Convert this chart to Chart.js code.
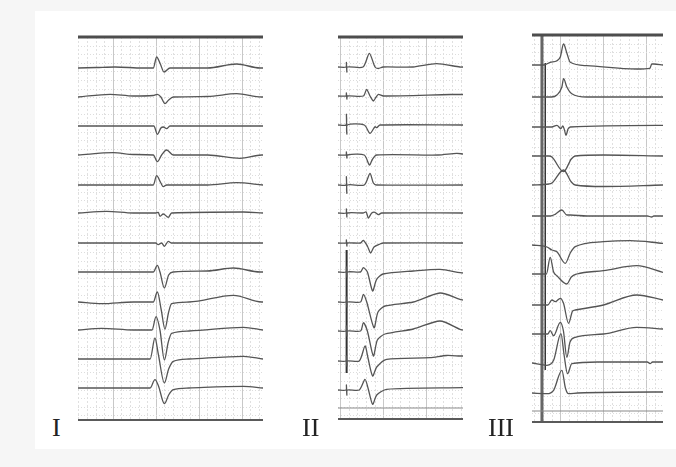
<!DOCTYPE html>
<html>
<head>
<meta charset="utf-8">
<script src="https://cdn.jsdelivr.net/npm/chart.js@4.4.0/dist/chart.umd.min.js"></script>
<style>
body { margin: 0; background: #f6f6f6; width: 676px; height: 467px; overflow: hidden; position: relative; }
#sheet { position: absolute; left: 35px; top: 11px; width: 641px; height: 438px; background: #fff; }
canvas { position: absolute; }
.lbl { position: absolute; top: 415px; font-family: 'Liberation Serif', 'DejaVu Serif', serif; font-size: 26px; line-height: 1; color: #222; }
</style>
</head>
<body>
<div id="sheet"></div>
<canvas id="c1"></canvas>
<canvas id="c2"></canvas>
<canvas id="c3"></canvas>
<div class="lbl" style="left:52px">I</div>
<div class="lbl" style="left:302px">II</div>
<div class="lbl" style="left:488px">III</div>
<script>
// x = % of strip width, y = deflection from each lead's baseline (up is positive)
const panelLabels = ['I', 'II', 'III']

// ---- panel I ----
const baseI = [352, 323, 294, 265, 235, 207, 177, 148, 118, 90, 61, 32]
const leadsI = [
    [[0,0],[10,0.5],[20,1],[35,0],[40.7,0],[42.5,11],[44.5,4],[46.5,-4],[49.7,0],[70,0],[85.7,4],[98.4,0],[100,0]],
    [[0,0],[17.3,2.7],[30,1],[40.7,1.5],[42.9,2.7],[44.8,0],[47,-6.7],[49,-3],[51.5,0],[70,0.5],[85.7,3.3],[99.3,0],[100,0]],
    [[0,0],[41,0],[42.9,-8.3],[44.8,-2],[46.1,-1],[47.9,-2.7],[49.7,0],[100,0]],
    [[0,0],[19.1,2.3],[30,0.5],[40.7,0],[42.9,-6.7],[45.2,0],[47.9,5],[51.5,0],[70,0],[87.6,-3.3],[99.3,0],[100,0]],
    [[0,0],[40.7,0],[42.5,9.3],[44.8,2],[46.1,-1.7],[47.9,0],[70,0],[85.7,2.3],[100,0]],
    [[0,0],[15.5,1.7],[30,0],[42,0],[43.4,0.7],[44.3,-3.3],[46.1,-1],[48.8,-4.3],[50.6,0],[89.4,1],[100,0]],
    [[0,0],[42,0],[43.4,-1.7],[45.2,0],[46.7,-3.3],[48.8,1.7],[50.6,0],[100,0]],
    [[0,0],[40.7,0],[42.9,6.7],[44.3,0],[46.7,-16],[49,-3],[51.5,0],[70,1],[84,4],[98.4,0],[100,0]],
    [[0,0],[12.8,-1.7],[30,0],[40.7,0],[42.9,10],[45,-8],[47,-27],[49,-10],[50.6,-1.7],[60,0],[84,6.7],[99.3,0],[100,0]],
    [[0,0],[12.8,1.7],[30,0],[40,0],[42.2,13.3],[44.3,0],[46.7,-30],[48.8,-12],[50.6,-3.3],[60,-1],[89.4,2.7],[100,0]],
    [[0,0],[39,0],[41.6,21],[43.4,5],[46.7,-24],[49,-10],[51.5,-2.3],[60,0],[89.4,2.7],[100,0]],
    [[0,0],[39,0],[41.6,8.3],[43.5,2],[46.7,-15.7],[49,-7],[51.5,-1.7],[60,0],[89.4,1.7],[100,0]]
]

// ---- panel II (paced) ----
const baseII = [352, 323, 294, 264, 234, 206, 176, 147, 117, 88, 58, 29]
const spikeII = [[4.5,-5], [3,-3], [10.7,-9], [3,-3], [8.3,-8.3], [4,-4], [3,-3], [5,-5], [5,-5], [5,-5], [5,-5], [5,-5]]
const leadsII = [
    [[20,0],[25.1,13.7],[29.6,0],[32.3,-1.5],[36,0],[60,0],[78.9,3.3],[97.6,0],[100,0]],
    [[20.3,0],[22.9,6.7],[25.6,0],[28.3,-5],[30.5,-1],[32.3,1.7],[36.3,0],[90,1.5],[100,1.5]],
    [[21,0],[25.6,-8.3],[29.6,-1.7],[31,-2.7],[33.6,0],[100,0]],
    [[21,0],[25.1,-10],[27.7,-4],[30.9,0],[80,0],[95,1.7],[100,1]],
    [[21,0],[25.6,11.7],[28.3,2],[30.9,0],[100,0]],
    [[20,0],[22.5,1],[24.3,-5],[27,0],[29.6,0.7],[32.3,-1.7],[34.9,0],[100,0]],
    [[18,0],[20.3,2.7],[23.5,-3],[26.1,-10],[28.8,-4],[33.6,-1],[36.3,0],[100,0]],
    [[18,0],[20.3,4.3],[23.5,0],[27.7,-19],[30.9,-7.3],[36,-2],[60.3,1],[81.6,2.7],[97.6,-0.7],[100,-1]],
    [[18,0],[20.3,7.7],[23,0],[28.8,-25.7],[32,-10],[37.6,-4],[60.3,0],[81.6,9],[97.6,2.7],[100,2]],
    [[18,0],[20.3,8.3],[23.5,0],[28.3,-25],[31.5,-9],[37.6,-3],[60.3,2],[81.6,10],[97.6,1.7],[100,1]],
    [[17,0],[21.6,15],[24,3],[27.7,-15],[31,-6],[38.9,1.7],[73.6,3.3],[86.9,5.5],[97.6,5],[100,5]],
    [[17,0],[21.6,10.7],[24,2],[27.7,-14.3],[31,-5],[38.9,0.7],[100,2.3]]
]
const pacerII = [[6.9, 169], [6.9, 46]]

// ---- panel III ----
const baseIII = [357, 325, 295, 266, 237, 206, 177, 148, 117, 88, 59, 29]
const leadsIII = [
    [[0,0],[9,0],[13.9,2.7],[19,4.3],[21.6,8],[24.1,21],[26.6,12],[29.2,2.7],[41.9,-0.7],[80,-4],[90,-3.3],[91.4,1],[93,1],[100,0]],
    [[0,0],[15,0],[19,2],[22.8,10],[24.1,18.3],[26.6,10],[30.4,3.3],[41.9,0],[100,0]],
    [[0,0],[15,0],[19,1.7],[22.1,-1.7],[23.5,1],[24.8,-3],[25.9,-8.3],[27.5,-2],[29.2,0],[100,1.7]],
    [[0,0],[13,0],[15.2,-1],[24.1,-15.7],[30,-3],[33,0],[54.6,1],[100,0]],
    [[0,0],[13,1],[15.2,2],[24.1,15],[30,3],[33,0],[54.6,-1.5],[100,0]],
    [[0,0],[14,0],[17.7,1.7],[22.8,6],[26.6,1],[29.2,1],[41.9,0],[88,0],[91.4,-1],[93,0],[100,0]],
    [[0,0],[11.4,-2],[15.2,-5],[19,-6.7],[25.4,-18.3],[29.2,-8],[33,-1.7],[54.6,3.3],[74.9,4.3],[100,1.7]],
    [[0,0],[11,0],[13.9,16.7],[16.5,2],[19,-1.7],[26.6,-10],[30,-3],[34.3,0],[54.6,3.3],[80,8.3],[100,1.7]],
    [[0,0],[12,0],[15.2,5],[17.7,3.3],[21.6,6.7],[24,2],[27.9,-18.3],[31,-6],[33,-5],[54.6,0],[80,10],[100,5]],
    [[0,0],[12,0],[13.9,3.3],[16.5,-1.7],[21.6,11.7],[24,3],[26.6,-23.3],[29,-8],[33,-3.3],[54.6,0],[80,6.7],[100,5]],
    [[0,0],[11.4,-2.3],[16.5,2.7],[22.1,29.3],[24.5,8],[27.1,-10.7],[30.4,-0.7],[50,1],[88,1],[90.1,-0.7],[92,1],[100,1]],
    [[0,0],[11.4,-0.7],[16.5,2.7],[22.8,22.7],[25.5,5],[27.9,-0.7],[35,0],[92.7,1],[100,1]]
]
const pacerIII = [[[7.6, 387], [7.6, 0]], [[10.1, 359], [10.1, 52]]]

const traceColor = '#555'

// grid + frame drawn from the chart area
const ecgFrame = {
    id: 'ecgFrame',
    beforeDatasetsDraw(chart, args, opts) {
        const { ctx, chartArea: a, scales: { x } } = chart
        ctx.save()
        const major = 43, minor = major / 5
        let start = x.getPixelForValue(opts.phase)
        while (start - minor > a.left) start -= minor
        let k = Math.round((x.getPixelForValue(opts.phase) - start) / minor)
        for (let px = start; px < a.right; px += minor, k--) {
            const isMajor = ((k % 5) + 5) % 5 === 0
            ctx.strokeStyle = isMajor ? '#c8c8c8' : '#e0e0e0'
            ctx.lineWidth = 1
            ctx.setLineDash(isMajor ? [] : [2, 2])
            ctx.beginPath()
            ctx.moveTo(Math.round(px) + 0.5, a.top)
            ctx.lineTo(Math.round(px) + 0.5, a.bottom)
            ctx.stroke()
        }
        ctx.strokeStyle = '#dddddd'
        ctx.setLineDash([1, 2])
        for (let py = a.top + minor; py < a.bottom; py += minor) {
            ctx.beginPath()
            ctx.moveTo(a.left, Math.round(py) + 0.5)
            ctx.lineTo(a.right, Math.round(py) + 0.5)
            ctx.stroke()
        }
        ctx.restore()
    },
    afterDatasetsDraw(chart, args, opts) {
        const { ctx, chartArea: a, scales: { y } } = chart
        ctx.save()
        ctx.strokeStyle = '#4d4d4d'
        ctx.lineWidth = 3
        ctx.beginPath()
        ctx.moveTo(a.left, a.top)
        ctx.lineTo(a.right, a.top)
        ctx.stroke()
        ctx.strokeStyle = '#5a5a5a'
        ctx.lineWidth = 2
        ctx.beginPath()
        ctx.moveTo(a.left, a.bottom)
        ctx.lineTo(a.right, a.bottom)
        ctx.stroke()
        if (opts.extra) {
            ctx.strokeStyle = '#8a8a8a'
            ctx.lineWidth = 1.2
            ctx.beginPath()
            ctx.moveTo(a.left, y.getPixelForValue(opts.extra))
            ctx.lineTo(a.right, y.getPixelForValue(opts.extra))
            ctx.stroke()
        }
        ctx.restore()
    }
}

function leadDataset(points, base) {
    return {
        data: points.map(p => ({ x: p[0], y: base + p[1] })),
        showLine: true,
        borderColor: traceColor,
        borderWidth: 1.3,
        pointRadius: 0,
        cubicInterpolationMode: 'monotone'
    }
}

function lineDataset(points, width, color) {
    return {
        data: points.map(p => ({ x: p[0], y: p[1] })),
        showLine: true,
        borderColor: color,
        borderWidth: width,
        pointRadius: 0,
        tension: 0
    }
}

function makePanel(id, left, top, w, h, datasets, frameOpts) {
    const pad = 6
    const canvas = document.getElementById(id)
    canvas.width = w + pad * 2
    canvas.height = h + pad * 2
    canvas.style.left = (left - pad) + 'px'
    canvas.style.top = (top - pad) + 'px'
    return new Chart(canvas, {
        type: 'scatter',
        plugins: [ecgFrame],
        data: { datasets: datasets },
        options: {
            responsive: false,
            animation: false,
            layout: { padding: pad },
            plugins: { legend: { display: false }, tooltip: { enabled: false }, ecgFrame: frameOpts },
            scales: {
                x: { type: 'linear', min: 0, max: 100, display: false },
                y: { type: 'linear', min: 0, max: h, display: false }
            }
        }
    })
}

// panel I
const dsI = leadsI.map((pts, i) => leadDataset(pts, baseI[i]))
makePanel('c1', 78, 37, 185, 383, dsI, { phase: 18.8 })

// panel II: pacing spike added in front of each lead
const dsII = leadsII.map((pts, i) => {
    const s = spikeII[i]
    const full = [[0, 0], [6.4, 0], [6.7, s[0]], [7.1, s[1]], [7.5, 0]].concat(pts)
    return leadDataset(full, baseII[i])
})
dsII.forEach(d => { d.cubicInterpolationMode = 'default'; d.tension = 0.25 })
dsII.push(lineDataset(pacerII, 2, '#333'))
makePanel('c2', 338, 37, 125, 382, dsII, { phase: 36.2, extra: 11 })

// panel III
const dsIII = leadsIII.map((pts, i) => leadDataset(pts, baseIII[i]))
dsIII.push(lineDataset(pacerIII[0], 3, '#666'))
dsIII.push(lineDataset(pacerIII[1], 1.5, '#333'))
makePanel('c3', 532, 35, 131, 387, dsIII, { phase: 21.6, extra: 11 })
</script>
</body>
</html>
